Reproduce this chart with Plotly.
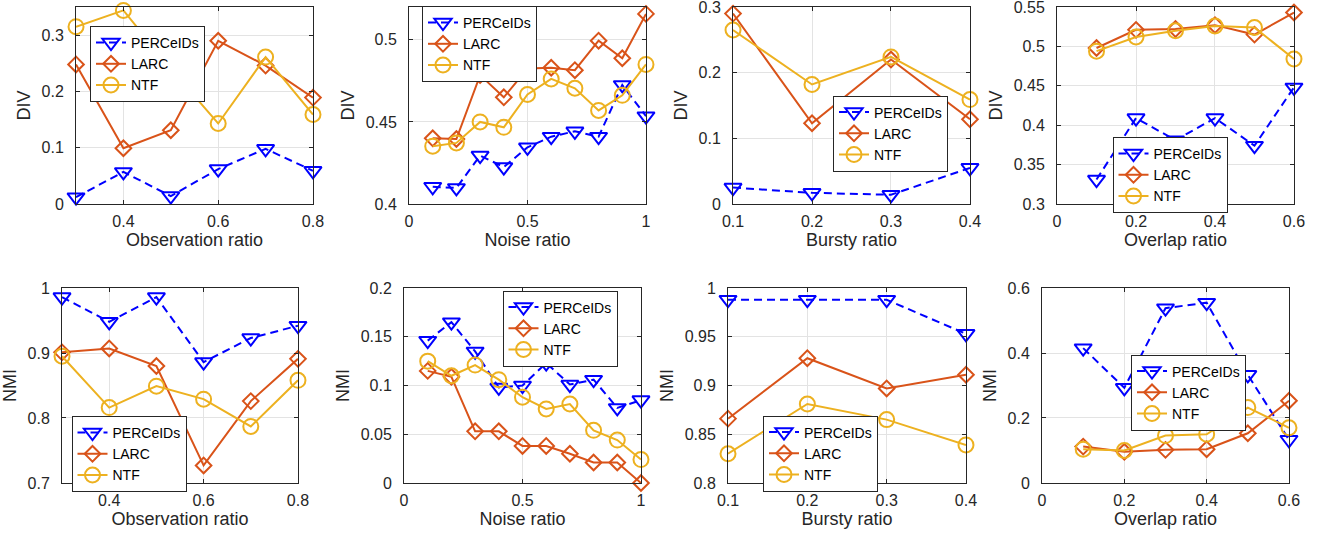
import plotly.graph_objects as go

# ---------------- data ----------------
obs_x = [0.3, 0.4, 0.5, 0.6, 0.7, 0.8]
noise_x = [0.1, 0.2, 0.3, 0.4, 0.5, 0.6, 0.7, 0.8, 0.9, 1.0]
bursty_x = [0.1, 0.2, 0.3, 0.4]
overlap_x = [0.1, 0.2, 0.3, 0.4, 0.5, 0.6]

div_obs_perceids = [0.012, 0.057, 0.014, 0.062, 0.098, 0.059]
div_obs_larc = [0.248, 0.099, 0.131, 0.290, 0.246, 0.189]
div_obs_ntf = [0.315, 0.344, 0.240, 0.143, 0.261, 0.159]

div_noise_perceids = [0.4105, 0.4098, 0.4295, 0.4225, 0.4345, 0.4410, 0.4443, 0.4410, 0.4725, 0.4535]
div_noise_larc = [0.4400, 0.4396, 0.4785, 0.4650, 0.4825, 0.4830, 0.4815, 0.4995, 0.4888, 0.5158]
div_noise_ntf = [0.4352, 0.4372, 0.4500, 0.4467, 0.4667, 0.4762, 0.4705, 0.4570, 0.4662, 0.4850]

div_bursty_perceids = [0.025, 0.017, 0.014, 0.055]
div_bursty_larc = [0.290, 0.123, 0.220, 0.129]
div_bursty_ntf = [0.265, 0.182, 0.224, 0.159]

div_overlap_perceids = [0.331, 0.409, 0.381, 0.409, 0.374, 0.448]
div_overlap_larc = [0.498, 0.521, 0.522, 0.527, 0.515, 0.543]
div_overlap_ntf = [0.494, 0.512, 0.520, 0.526, 0.524, 0.484]

nmi_obs_perceids = [0.986, 0.948, 0.986, 0.886, 0.923, 0.942]
nmi_obs_larc = [0.901, 0.907, 0.880, 0.727, 0.826, 0.891]
nmi_obs_ntf = [0.895, 0.816, 0.849, 0.829, 0.787, 0.858]

nmi_noise_perceids = [0.146, 0.165, 0.135, 0.098, 0.100, 0.123, 0.101, 0.106, 0.077, 0.085]
nmi_noise_larc = [0.115, 0.109, 0.053, 0.053, 0.038, 0.038, 0.030, 0.021, 0.021, 0.000]
nmi_noise_ntf = [0.125, 0.110, 0.121, 0.106, 0.088, 0.076, 0.081, 0.054, 0.044, 0.024]

nmi_bursty_perceids = [0.988, 0.988, 0.988, 0.953]
nmi_bursty_larc = [0.866, 0.928, 0.897, 0.911]
nmi_bursty_ntf = [0.830, 0.881, 0.865, 0.839]

nmi_overlap_perceids = [0.415, 0.293, 0.538, 0.555, 0.333, 0.133]
nmi_overlap_larc = [0.112, 0.096, 0.102, 0.104, 0.153, 0.253]
nmi_overlap_ntf = [0.104, 0.100, 0.146, 0.150, 0.232, 0.170]

series_names = ["PERCeIDs", "LARC", "NTF"]

x_titles = ["Observation ratio", "Noise ratio", "Bursty ratio", "Overlap ratio"] * 2
y_titles = ["DIV"] * 4 + ["NMI"] * 4

x_ticks = [
    ([0.4, 0.6, 0.8], ["0.4", "0.6", "0.8"]),
    ([0, 0.5, 1], ["0", "0.5", "1"]),
    ([0.1, 0.2, 0.3, 0.4], ["0.1", "0.2", "0.3", "0.4"]),
    ([0, 0.2, 0.4, 0.6], ["0", "0.2", "0.4", "0.6"]),
]
x_ticks = x_ticks * 2
y_ticks = [
    ([0, 0.1, 0.2, 0.3], ["0", "0.1", "0.2", "0.3"]),
    ([0.4, 0.45, 0.5], ["0.4", "0.45", "0.5"]),
    ([0, 0.1, 0.2, 0.3], ["0", "0.1", "0.2", "0.3"]),
    ([0.3, 0.35, 0.4, 0.45, 0.5, 0.55], ["0.3", "0.35", "0.4", "0.45", "0.5", "0.55"]),
    ([0.7, 0.8, 0.9, 1.0], ["0.7", "0.8", "0.9", "1"]),
    ([0, 0.05, 0.1, 0.15, 0.2], ["0", "0.05", "0.1", "0.15", "0.2"]),
    ([0.8, 0.85, 0.9, 0.95, 1.0], ["0.8", "0.85", "0.9", "0.95", "1"]),
    ([0, 0.2, 0.4, 0.6], ["0", "0.2", "0.4", "0.6"]),
]
x_ranges = [[0.3, 0.8], [0, 1], [0.1, 0.4], [0, 0.6]] * 2
y_ranges = [[0, 0.35], [0.4, 0.52], [0, 0.3], [0.3, 0.55],
            [0.7, 1.0], [0, 0.2], [0.8, 1.0], [0, 0.6]]

panels = [
    (obs_x, div_obs_perceids, div_obs_larc, div_obs_ntf),
    (noise_x, div_noise_perceids, div_noise_larc, div_noise_ntf),
    (bursty_x, div_bursty_perceids, div_bursty_larc, div_bursty_ntf),
    (overlap_x, div_overlap_perceids, div_overlap_larc, div_overlap_ntf),
    (obs_x, nmi_obs_perceids, nmi_obs_larc, nmi_obs_ntf),
    (noise_x, nmi_noise_perceids, nmi_noise_larc, nmi_noise_ntf),
    (bursty_x, nmi_bursty_perceids, nmi_bursty_larc, nmi_bursty_ntf),
    (overlap_x, nmi_overlap_perceids, nmi_overlap_larc, nmi_overlap_ntf),
]

# ---------------- layout geometry (pixels) ----------------
W, H = 1322, 533
x_px = [(76, 313), (409, 646), (733, 970), (1057, 1294),
        (62, 298), (404, 641), (728, 966), (1042, 1289)]
y_px = [(7, 204)] * 4 + [(288, 483)] * 4
legend_px = [(147.5, 64), (479.5, 44), (890.5, 133.5), (1170, 175),
             (129, 454), (560, 328.5), (820.5, 453.5), (1188.5, 392.5)]

BLUE = "#0000FF"
ORANGE = "#D95319"
YELLOW = "#EDB120"
AX = "#262626"
FONT = "Liberation Sans, Arial, sans-serif"

styles = [
    dict(color=BLUE, dash="8px,5px", symbol="triangle-down-open", size=15),
    dict(color=ORANGE, dash="solid", symbol="diamond-open", size=12),
    dict(color=YELLOW, dash="solid", symbol="circle-open", size=15),
]

fig = go.Figure()
layout = {}
for i, (xs, a, b, c) in enumerate(panels):
    k = i + 1
    sx = "" if k == 1 else str(k)
    leg = "legend" if k == 1 else f"legend{k}"
    for name, ys, st in zip(series_names, (a, b, c), styles):
        fig.add_trace(go.Scatter(
            x=xs, y=ys, name=name, mode="lines+markers",
            xaxis="x" + sx, yaxis="y" + sx, legend=leg,
            cliponaxis=False,
            line=dict(color=st["color"], width=2, dash=st["dash"]),
            marker=dict(symbol=st["symbol"], size=st["size"],
                        color=st["color"], line=dict(color=st["color"], width=2)),
        ))
    x0, x1 = x_px[i]
    yt, yb = y_px[i]
    xr = x_ranges[i]
    yr = y_ranges[i]
    xpad = (xr[1] - xr[0]) * 1e-4
    ypad = (yr[1] - yr[0]) * 1e-4
    common = dict(
        showline=True, linecolor=AX, linewidth=1, mirror="ticks",
        ticks="inside", ticklen=4, tickcolor=AX, tickwidth=1,
        showgrid=True, gridcolor="#e3e3e3", gridwidth=1,
        zeroline=False, automargin=False, ticklabeloverflow="allow",
        tickfont=dict(family=FONT, size=16, color=AX),
    )
    layout["xaxis" + sx] = dict(
        common, domain=[x0 / W, x1 / W], anchor="y" + sx,
        range=[xr[0] - xpad, xr[1] + xpad], tickmode="array",
        tickvals=x_ticks[i][0], ticktext=x_ticks[i][1],
        ticklabelstandoff=3,
        title=dict(text=x_titles[i], standoff=4,
                   font=dict(family=FONT, size=18, color=AX)),
    )
    layout["yaxis" + sx] = dict(
        common, domain=[1 - yb / H, 1 - yt / H], anchor="x" + sx,
        range=[yr[0] - ypad, yr[1] + ypad], tickmode="array",
        tickvals=y_ticks[i][0], ticktext=y_ticks[i][1],
        ticklabelstandoff=8,
        title=dict(text=y_titles[i], standoff=6,
                   font=dict(family=FONT, size=18, color=AX)),
    )
    cx, cy = legend_px[i]
    layout[leg] = dict(
        x=cx / W, y=1 - cy / H, xanchor="center", yanchor="middle",
        xref="paper", yref="paper",
        bgcolor="white", bordercolor=AX, borderwidth=1,
        font=dict(family=FONT, size=14, color="black"),
        tracegroupgap=0, itemwidth=30,
    )

fig.update_layout(
    **layout,
    width=W, height=H,
    margin=dict(l=0, r=0, t=0, b=0),
    paper_bgcolor="white", plot_bgcolor="white",
    showlegend=True,
)

fig.write_html("out.html", config={"displayModeBar": False},
               post_script="document.body.style.margin='0';document.body.style.overflow='hidden';")
